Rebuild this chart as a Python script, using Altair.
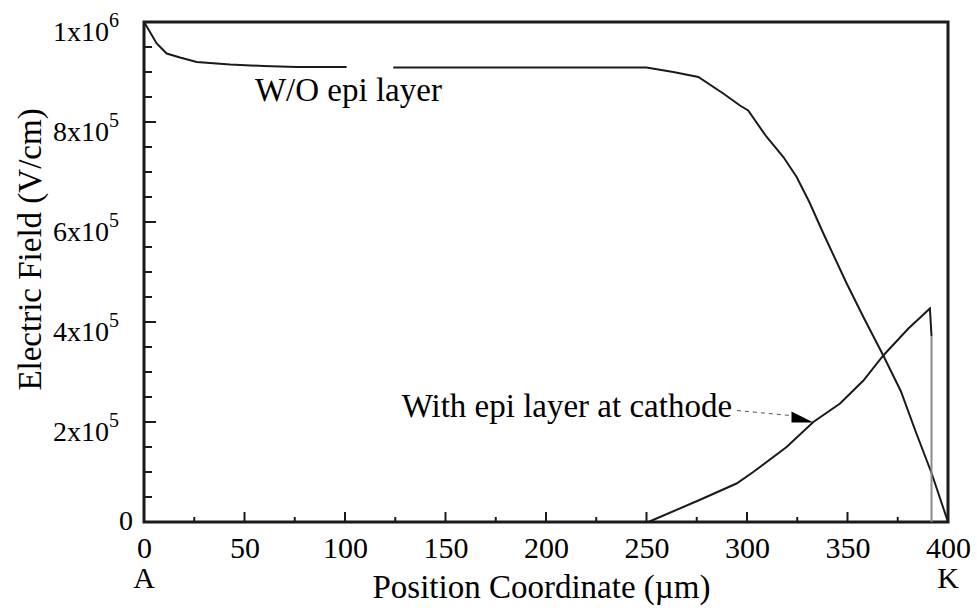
import altair as alt
import pandas as pd

# W/O epi layer (two visible segments, gap around 101-124 um)
wo_x = [0, 0.5, 6.3, 11.3, 17.9, 26.2, 42.8, 59.4, 76, 100.8,
        124, 150, 200, 250, 263.3, 275.8, 288.2, 296.5, 300.6, 309.8, 318.1, 324.7,
        331, 338, 349.6, 357.9, 367.8, 376.5, 384, 391.9, 400]
wo_E = [1.0e6, 0.997e6, 0.957e6, 0.937e6, 0.929e6, 0.920e6, 0.915e6, 0.912e6, 0.910e6, 0.910e6,
        0.909e6, 0.909e6, 0.909e6, 0.909e6, 0.900e6, 0.890e6, 0.857e6, 0.833e6, 0.823e6, 0.770e6,
        0.730e6, 0.690e6, 0.640e6, 0.577e6, 0.477e6, 0.410e6, 0.333e6, 0.262e6, 0.180e6, 0.097e6, 0.0]
wo_seg = ["a"] * 10 + ["b"] * 21

# With epi layer at cathode
epi_x = [250.9, 275.8, 294.8, 303.1, 319.7, 333, 346.3, 357.9, 367.8, 380.3, 391.0, 391.8]
epi_E = [0.0, 0.043e6, 0.077e6, 0.100e6, 0.150e6, 0.200e6, 0.237e6, 0.283e6, 0.333e6, 0.387e6, 0.427e6, 0.372e6]
drop_x = [391.8, 391.8]
drop_E = [0.372e6, 0.0]

x_major = [0, 50, 100, 150, 200, 250, 300, 350, 400]
x_minor = [25, 75, 125, 175, 225, 275, 325, 375]
y_major = [0, 2e5, 4e5, 6e5, 8e5, 1e6]
y_minor = [5e4, 1e5, 1.5e5, 2.5e5, 3e5, 3.5e5, 4.5e5, 5e5, 5.5e5, 6.5e5, 7e5, 7.5e5,
           8.5e5, 9e5, 9.5e5]
# y tick labels: mantissa x 10^exponent
ylab_vals = [2e5, 4e5, 6e5, 8e5, 1e6]
ylab_base = ["2x10", "4x10", "6x10", "8x10", "1x10"]
ylab_exp = ["5", "5", "5", "5", "6"]
ylab_zero = ["0"]

ann_text = ["W/O epi layer", "With epi layer at cathode"]
ann_x = [55.2, 128.2]
ann_E = [0.843e6, 0.21e6]
end_text = ["A", "K"]
end_x = [0, 400]
leader_x = [295, 321.4]
leader_E = [0.223e6, 0.213e6]
arrow_x = [327.6]
arrow_E = [0.21e6]

FONT = "Liberation Serif"
W, H = 804, 500

wo = pd.DataFrame({"x": wo_x, "E": wo_E, "seg": wo_seg})
epi = pd.DataFrame({"x": epi_x, "E": epi_E})
drop = pd.DataFrame({"x": drop_x, "E": drop_E})

xs = alt.Scale(domain=[0, 400], nice=False, zero=False)
ys = alt.Scale(domain=[0, 1e6], nice=False)

xaxis = alt.Axis(values=x_major, ticks=False, grid=False, domain=False, labelFlush=False,
                 labelPadding=11, labelFont=FONT, labelFontSize=30, labelColor="black",
                 title="Position Coordinate (\u00b5m)", titleFont=FONT, titleFontSize=33,
                 titleFontWeight="normal", titleColor="black", titleX=397, titleY=75,
                 titleBaseline="alphabetic", titleAlign="center")
yaxis = alt.Axis(values=y_major, ticks=False, grid=False, domain=False, labels=False,
                 title="Electric Field (V/cm)", titleFont=FONT, titleFontSize=33,
                 titleFontWeight="normal", titleColor="black", titleX=-104, titleY=227,
                 titleAngle=270, titleBaseline="alphabetic", titleAlign="center")

X = alt.X("x:Q", scale=xs, axis=xaxis)
Y = alt.Y("E:Q", scale=ys, axis=yaxis)

wo_line = alt.Chart(wo).mark_line(color="#1a1a1a", strokeWidth=2).encode(x=X, y=Y, detail="seg:N")
epi_line = alt.Chart(epi).mark_line(color="#1a1a1a", strokeWidth=2).encode(x=X, y=Y)
drop_line = alt.Chart(drop).mark_line(color="#8a8a8a", strokeWidth=2).encode(x=X, y=Y)

xmaj = alt.Chart(pd.DataFrame({"x": x_major})).mark_rule(color="#1a1a1a", strokeWidth=2).encode(
    x=X, y=alt.value(H), y2=alt.value(H - 10))
xmin = alt.Chart(pd.DataFrame({"x": x_minor})).mark_rule(color="#1a1a1a", strokeWidth=2).encode(
    x=X, y=alt.value(H), y2=alt.value(H - 5))
ymaj = alt.Chart(pd.DataFrame({"E": y_major})).mark_rule(color="#1a1a1a", strokeWidth=2).encode(
    y=Y, x=alt.value(0), x2=alt.value(12))
ymin = alt.Chart(pd.DataFrame({"E": y_minor})).mark_rule(color="#1a1a1a", strokeWidth=2).encode(
    y=Y, x=alt.value(0), x2=alt.value(8))

ylab_df = pd.DataFrame({"E": ylab_vals, "b": ylab_base, "e": ylab_exp})
ylab_b = alt.Chart(ylab_df).mark_text(font=FONT, fontSize=28, align="right", baseline="alphabetic",
                                      dy=19, color="black").encode(y=Y, x=alt.value(-35), text="b:N")
ylab_e = alt.Chart(ylab_df).mark_text(font=FONT, fontSize=20, align="left", baseline="alphabetic",
                                      dy=5, color="black").encode(y=Y, x=alt.value(-35), text="e:N")
ylab_0 = alt.Chart(pd.DataFrame({"E": [0], "t": ylab_zero})).mark_text(
    font=FONT, fontSize=28, align="right", baseline="alphabetic", dy=8, color="black").encode(
    y=Y, x=alt.value(-11), text="t:N")

ann = alt.Chart(pd.DataFrame({"x": ann_x, "E": ann_E, "t": ann_text})).mark_text(
    font=FONT, fontSize=33, align="left", baseline="alphabetic", color="black").encode(
    x=X, y=Y, text="t:N")
ends = alt.Chart(pd.DataFrame({"x": end_x, "t": end_text})).mark_text(
    font=FONT, fontSize=30, align="center", baseline="alphabetic", color="black").encode(
    x=X, y=alt.value(566), text="t:N")
leader = alt.Chart(pd.DataFrame({"x": leader_x, "E": leader_E})).mark_line(
    color="#555555", strokeWidth=1, strokeDash=[4, 4]).encode(x=X, y=Y)
arrow = alt.Chart(pd.DataFrame({"x": arrow_x, "E": arrow_E})).mark_point(
    shape="M -1 -0.5 L -1 0.5 L 1 0.5 Z", filled=True, color="black", size=484, opacity=1).encode(x=X, y=Y)

chart = alt.layer(wo_line, epi_line, drop_line, xmaj, xmin, ymaj, ymin,
                  ylab_b, ylab_e, ylab_0, ann, ends, leader, arrow).properties(
    width=W, height=H,
    padding={"left": 144, "top": 22, "right": 29, "bottom": 93},
    autosize=alt.AutoSizeParams(type="none"),
    background="white",
).configure(font=FONT).configure_view(stroke="#1a1a1a", strokeWidth=3)

chart.save("out.html", embed_options={"renderer": "svg", "actions": False})
